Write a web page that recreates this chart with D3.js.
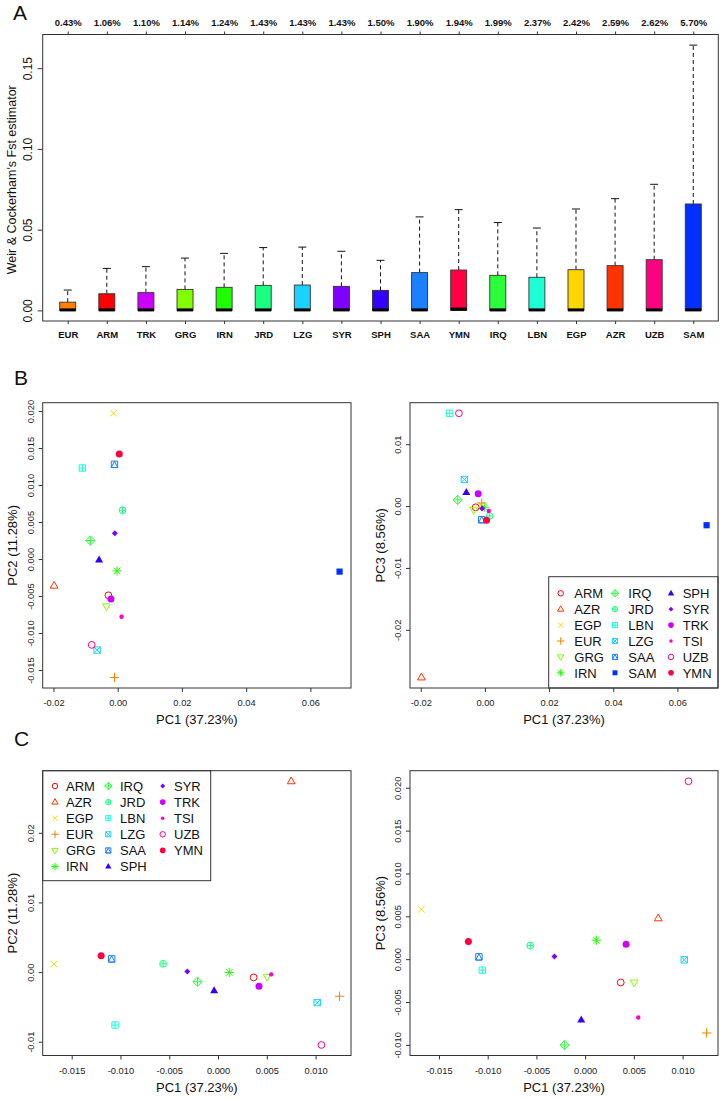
<!DOCTYPE html>
<html><head><meta charset="utf-8">
<script src="https://cdn.jsdelivr.net/npm/d3@7"></script>
<style>
body{margin:0;background:#fff}
svg{display:block;font-family:"Liberation Sans",Arial,Helvetica,sans-serif}
</style>
</head><body>
<svg id="c" width="723" height="1098"></svg>
<script>
// ---------- Panel A data ----------
const categories = ["EUR","ARM","TRK","GRG","IRN","JRD","LZG","SYR","SPH","SAA","YMN","IRQ","LBN","EGP","AZR","UZB","SAM"];
const percentLabels = ["0.43%","1.06%","1.10%","1.14%","1.24%","1.43%","1.43%","1.43%","1.50%","1.90%","1.94%","1.99%","2.37%","2.42%","2.59%","2.62%","5.70%"];
const whiskerLow = [0,0,0,0,0,0,0,0,0,0,0,0,0,0,0,0,0];
const boxQ1 = [0,0,0,0,0,0,0,0,0,0,0,0,0,0,0,0,0];
const boxMedian = [0.0003,0.0003,0.0003,0.0003,0.0003,0.0003,0.0003,0.0003,0.0003,0.0003,0.0008,0.0003,0.0003,0.0003,0.0003,0.0003,0.0003];
const boxQ3 = [0.0051,0.0103,0.0110,0.0130,0.0143,0.0155,0.0157,0.0149,0.0124,0.0234,0.0250,0.0217,0.0205,0.0252,0.0277,0.0314,0.0659];
const whiskerTop = [0.0126,0.0260,0.0271,0.0324,0.0353,0.0389,0.0392,0.0366,0.0310,0.0579,0.0624,0.0544,0.0510,0.0628,0.0692,0.0781,0.1643];
const yTicksA = [0,0.05,0.10,0.15];

// ---------- Groups ----------
const groups = ["ARM","AZR","EGP","EUR","GRG","IRN","IRQ","JRD","LBN","LZG","SAA","SAM","SPH","SYR","TRK","TSI","UZB","YMN"];
const groupColors = ["#FF0000","#FF3300","#FFD500","#FF8000","#80FF00","#1EFF00","#2BFF3C","#1AFF80","#1AFFD5","#1AD1FF","#1A80FF","#0030FF","#3300FF","#8000FF","#CC00FF","#FF00CC","#FF0080","#FF0040"];
const groupShapes = ["circle","triangle","cross","plus","triangleDown","asterisk","diamondPlus","circlePlus","squarePlus","squareCross","squareTriangle","squareFilled","triangleFilled","diamondFilled","circleFilled","dot","circle","circleFilled"];

// ---------- Panel B data (all populations) ----------
const pcB1 = [-0.0029,-0.0198,-0.0013,-0.0010,-0.0035,-0.0002,-0.0085,0.0015,-0.0110,-0.0064,-0.0010,0.0691,-0.0058,-0.0009,-0.0021,0.0012,-0.0081,0.0005];
const pcB2 = [-0.0049,-0.0036,0.0197,-0.0160,-0.0064,-0.0016,0.0025,0.0066,0.0123,-0.0123,0.0128,-0.0017,-0.0001,0.0035,-0.0054,-0.0078,-0.0116,0.0142];
const pcB3 = [-0.0002,-0.0277,0.0002,0.0005,-0.0006,-0.0002,0.0010,-0.0016,0.0150,0.0043,-0.0022,-0.0031,0.0022,-0.0004,0.0020,-0.0008,0.0150,-0.0023];

// ---------- Panel C data (without SAM) ----------
const groupsC = ["ARM","AZR","EGP","EUR","GRG","IRN","IRQ","JRD","LBN","LZG","SAA","SPH","SYR","TRK","TSI","UZB","YMN"];
const pcC1 = [0.00365,0.0075,-0.0168,0.01246,0.00503,0.00115,-0.0021,-0.00563,-0.01055,0.01017,-0.0109,-0.0004,-0.00315,0.0042,0.00545,0.0106,-0.01198];
const pcC2 = [-0.00076,0.0274,0.00114,-0.00347,-0.00067,-0.00005,-0.00138,0.00119,-0.0076,-0.00438,0.0019,-0.00267,0.0001,-0.00204,-0.00033,-0.01046,0.00233];
const pcC3 = [-0.00272,0.00477,0.00582,-0.00861,-0.00272,0.00221,-0.01001,0.00158,-0.00128,-0.00008,0.00027,-0.0071,0.0003,0.00175,-0.0068,0.02076,0.00205];

const ticksB1 = [-0.02,0,0.02,0.04,0.06];
const ticksB2 = [-0.015,-0.01,-0.005,0,0.005,0.01,0.015,0.02];
const ticksB3 = [-0.02,-0.01,0,0.01];
const ticksC1 = [-0.015,-0.01,-0.005,0,0.005,0.01];
const ticksC2 = [-0.01,0,0.01,0.02];
const ticksC3 = [-0.01,-0.005,0,0.005,0.01,0.015,0.02];

const colorOf = g => groupColors[groups.indexOf(g)];
const shapeOf = g => groupShapes[groups.indexOf(g)];

const svg = d3.select("#c");
const FRAME = "#333";

// ---------- symbol drawing ----------
function symbol(parent, shape, x, y, color, k) {
  k = k || 1;
  const g = parent.append("g").attr("transform", `translate(${x},${y}) scale(${k})`);
  const sw = 1 / k;
  const s = 3.4;
  const line = (d) => g.append("path").attr("d", d).attr("fill","none").attr("stroke", color).attr("stroke-width", sw);
  const plusD = r => `M${-r},0H${r}M0,${-r}V${r}`;
  const crossD = r => `M${-r},${-r}L${r},${r}M${-r},${r}L${r},${-r}`;
  const sq = r => `M${-r},${-r}H${r}V${r}H${-r}Z`;
  switch (shape) {
    case "circle": g.append("circle").attr("r", s).attr("fill","none").attr("stroke",color).attr("stroke-width",sw); break;
    case "triangle": line(`M0,-4.3L3.9,2.5L-3.9,2.5Z`); break;
    case "triangleDown": line(`M0,4.3L3.9,-2.5L-3.9,-2.5Z`); break;
    case "cross": line(crossD(3.3)); break;
    case "plus": line(plusD(4.7)); break;
    case "asterisk": line(plusD(4.6) + crossD(3.3)); break;
    case "diamondPlus": line(`M0,-4.6L4.6,0L0,4.6L-4.6,0Z` + plusD(4.6)); break;
    case "circlePlus": g.append("circle").attr("r", s).attr("fill","none").attr("stroke",color).attr("stroke-width",sw); line(plusD(s)); break;
    case "squarePlus": line(sq(3.2) + plusD(3.2)); break;
    case "squareCross": line(sq(3.2) + crossD(3.2)); break;
    case "squareTriangle": line(sq(3.2) + `M0,-3.2L3.2,3.2L-3.2,3.2Z`); break;
    case "squareFilled": g.append("path").attr("d", sq(3.1)).attr("fill", color); break;
    case "triangleFilled": g.append("path").attr("d", `M0,-4.4L4,2.6L-4,2.6Z`).attr("fill", color); break;
    case "diamondFilled": g.append("path").attr("d", `M0,-3L3,0L0,3L-3,0Z`).attr("fill", color); break;
    case "circleFilled": g.append("circle").attr("r", 3.5).attr("fill", color); break;
    case "dot": g.append("circle").attr("r", 2.2).attr("fill", color); break;
  }
}

// ---------- Panel A ----------
(function panelA(){
  const f = {l:42.7, r:718.3, t:34.5, b:321};
  const x = d3.scalePoint().domain(categories).range([f.l, f.r]).padding(0.64);
  const lo = d3.min(whiskerLow), hi = d3.max(whiskerTop);
  const pad = (hi - lo) * 0.04;
  const y = d3.scaleLinear().domain([lo - pad, hi + pad]).range([f.b, f.t]);
  const g = svg.append("g");
  const bw = 16;

  categories.forEach((c, i) => {
    const cx = x(c);
    g.append("line").attr("x1",cx).attr("x2",cx).attr("y1",y(boxQ3[i])).attr("y2",y(whiskerTop[i]))
      .attr("stroke","#111").attr("stroke-width",1).attr("stroke-dasharray","4,3");
    g.append("line").attr("x1",cx-4).attr("x2",cx+4).attr("y1",y(whiskerTop[i])).attr("y2",y(whiskerTop[i]))
      .attr("stroke","#111").attr("stroke-width",1);
    g.append("rect").attr("x",cx-bw/2).attr("width",bw).attr("y",y(boxQ3[i])).attr("height",y(boxQ1[i])-y(boxQ3[i]))
      .attr("fill", colorOf(c)).attr("stroke","#333").attr("stroke-width",0.9);
    g.append("line").attr("x1",cx-bw/2).attr("x2",cx+bw/2).attr("y1",y(boxMedian[i])).attr("y2",y(boxMedian[i]))
      .attr("stroke","#000").attr("stroke-width",3);
  });

  g.append("rect").attr("x",f.l).attr("y",f.t).attr("width",f.r-f.l).attr("height",f.b-f.t)
    .attr("fill","none").attr("stroke",FRAME).attr("stroke-width",1);

  const top = g.append("g").attr("transform",`translate(0,${f.t})`)
    .call(d3.axisTop(x).tickSize(3).tickPadding(6).tickFormat((d,i)=>percentLabels[i]));
  top.select(".domain").remove();
  top.selectAll("text").attr("font-size","9.5px").attr("font-weight","bold").attr("fill","#111").attr("font-family","Liberation Sans, Arial, sans-serif");
  top.selectAll("line").attr("stroke","#333");

  const bot = g.append("g").attr("transform",`translate(0,${f.b})`)
    .call(d3.axisBottom(x).tickSize(3).tickPadding(7));
  bot.select(".domain").remove();
  bot.selectAll("text").attr("font-size","9.5px").attr("font-weight","bold").attr("fill","#111").attr("font-family","Liberation Sans, Arial, sans-serif");
  bot.selectAll("line").attr("stroke","#333");

  const left = g.append("g").attr("transform",`translate(${f.l},0)`)
    .call(d3.axisLeft(y).tickValues(yTicksA).tickSize(5).tickFormat(d3.format(".2f")));
  left.select(".domain").remove();
  left.selectAll("line").attr("stroke","#333");
  left.selectAll("text").attr("transform","rotate(-90)").attr("x",0).attr("y",-10.4).attr("dy",0)
    .attr("text-anchor","middle").attr("font-size","12px").attr("fill","#111").attr("font-family","Liberation Sans, Arial, sans-serif");

  g.append("text").attr("transform",`translate(15.5,${(f.t+f.b)/2 + 2}) rotate(-90)`).attr("text-anchor","middle")
    .attr("font-size","12.5px").attr("fill","#111").text("Weir & Cockerham's Fst estimator");

  svg.append("text").attr("x",13).attr("y",20).attr("font-size","21px").attr("fill","#111").text("A");
})();

// ---------- PCA panel ----------
function pcaPanel(opt) {
  const f = opt.frame;
  const xe = d3.extent(opt.xs), ye = d3.extent(opt.ys);
  const px = (xe[1]-xe[0])*0.04, py = (ye[1]-ye[0])*0.04;
  const x = d3.scaleLinear().domain([xe[0]-px, xe[1]+px]).range([f.l, f.r]);
  const y = d3.scaleLinear().domain([ye[0]-py, ye[1]+py]).range([f.b, f.t]);
  const g = svg.append("g");

  const bx = g.append("g").attr("transform",`translate(0,${f.b})`)
    .call(d3.axisBottom(x).tickValues(opt.xTicks).tickSize(4).tickPadding(7.5).tickFormat(opt.xFmt));
  bx.select(".domain").remove();
  bx.selectAll("line").attr("stroke","#333");
  bx.selectAll("text").attr("font-size","9.3px").attr("fill","#222").attr("font-family","Liberation Sans, Arial, sans-serif");

  const ly = g.append("g").attr("transform",`translate(${f.l},0)`)
    .call(d3.axisLeft(y).tickValues(opt.yTicks).tickSize(4).tickFormat(opt.yFmt));
  ly.select(".domain").remove();
  ly.selectAll("line").attr("stroke","#333");
  ly.selectAll("text").attr("transform","rotate(-90)").attr("x",0).attr("y",-9.2).attr("dy",0)
    .attr("text-anchor","middle").attr("font-size","9.3px").attr("fill","#222").attr("font-family","Liberation Sans, Arial, sans-serif");

  g.append("text").attr("x",(f.l+f.r)/2).attr("y",f.b+36).attr("text-anchor","middle")
    .attr("font-size","13px").attr("fill","#111").text(opt.xTitle);
  g.append("text").attr("transform",`translate(${f.l-opt.yTitleOff},${(f.t+f.b)/2}) rotate(-90)`).attr("text-anchor","middle")
    .attr("font-size","13px").attr("fill","#111").text(opt.yTitle);

  opt.groups.forEach((gname, i) => {
    symbol(g, shapeOf(gname), x(opt.xs[i]), y(opt.ys[i]), colorOf(gname));
  });

  if (opt.legend) {
    const L = opt.legend;
    g.append("rect").attr("x",L.x0).attr("y",L.y0).attr("width",L.x1-L.x0).attr("height",L.y1-L.y0)
      .attr("fill","#fff").attr("stroke",FRAME).attr("stroke-width",1);
    opt.groups.forEach((gname, i) => {
      const col = Math.floor(i/6), row = i%6;
      const ry = L.rowY + row*L.step;
      symbol(g, shapeOf(gname), L.symX[col], ry, colorOf(gname), 0.8);
      g.append("text").attr("x",L.txtX[col]).attr("y",ry+4.8).attr("font-size","13px").attr("fill","#111").text(gname);
    });
  }

  g.append("rect").attr("x",f.l).attr("y",f.t).attr("width",f.r-f.l).attr("height",f.b-f.t)
    .attr("fill","none").attr("stroke",FRAME).attr("stroke-width",1);
}

const fmt2 = d3.format(".2f"), fmt3 = d3.format(".3f");
const hy = f => (d => f(d).replace("−","-"));

pcaPanel({frame:{l:42.7,r:351,t:402.7,b:688}, xs:pcB1, ys:pcB2, groups:groups,
  xTicks:ticksB1, xFmt:hy(fmt2), yTicks:ticksB2, yFmt:hy(fmt3),
  xTitle:"PC1 (37.23%)", yTitle:"PC2 (11.28%)", yTitleOff:26});
pcaPanel({frame:{l:410,r:718,t:402.7,b:688}, xs:pcB1, ys:pcB3, groups:groups,
  xTicks:ticksB1, xFmt:hy(fmt2), yTicks:ticksB3, yFmt:hy(fmt2),
  xTitle:"PC1 (37.23%)", yTitle:"PC3 (8.56%)", yTitleOff:25,
  legend:{x0:548.7,x1:718,y0:576.7,y1:688,rowY:593.3,step:15.9,symX:[560.7,615,671],txtX:[574.3,628.3,682.7]}});
pcaPanel({frame:{l:42.7,r:351,t:770.7,b:1055.5}, xs:pcC1, ys:pcC2, groups:groupsC,
  xTicks:ticksC1, xFmt:hy(fmt3), yTicks:ticksC2, yFmt:hy(fmt2),
  xTitle:"PC1 (37.23%)", yTitle:"PC2 (11.28%)", yTitleOff:26,
  legend:{x0:42.7,x1:210.7,y0:770.7,y1:880.7,rowY:786,step:16.1,symX:[55,108.3,162.7],txtX:[66,120,174]}});
pcaPanel({frame:{l:410,r:718,t:770.7,b:1055.5}, xs:pcC1, ys:pcC3, groups:groupsC,
  xTicks:ticksC1, xFmt:hy(fmt3), yTicks:ticksC3, yFmt:hy(fmt3),
  xTitle:"PC1 (37.23%)", yTitle:"PC3 (8.56%)", yTitleOff:25});

svg.append("text").attr("x",14).attr("y",385).attr("font-size","21px").attr("fill","#111").text("B");
svg.append("text").attr("x",14).attr("y",746).attr("font-size","21px").attr("fill","#111").text("C");
</script>
</body></html>
